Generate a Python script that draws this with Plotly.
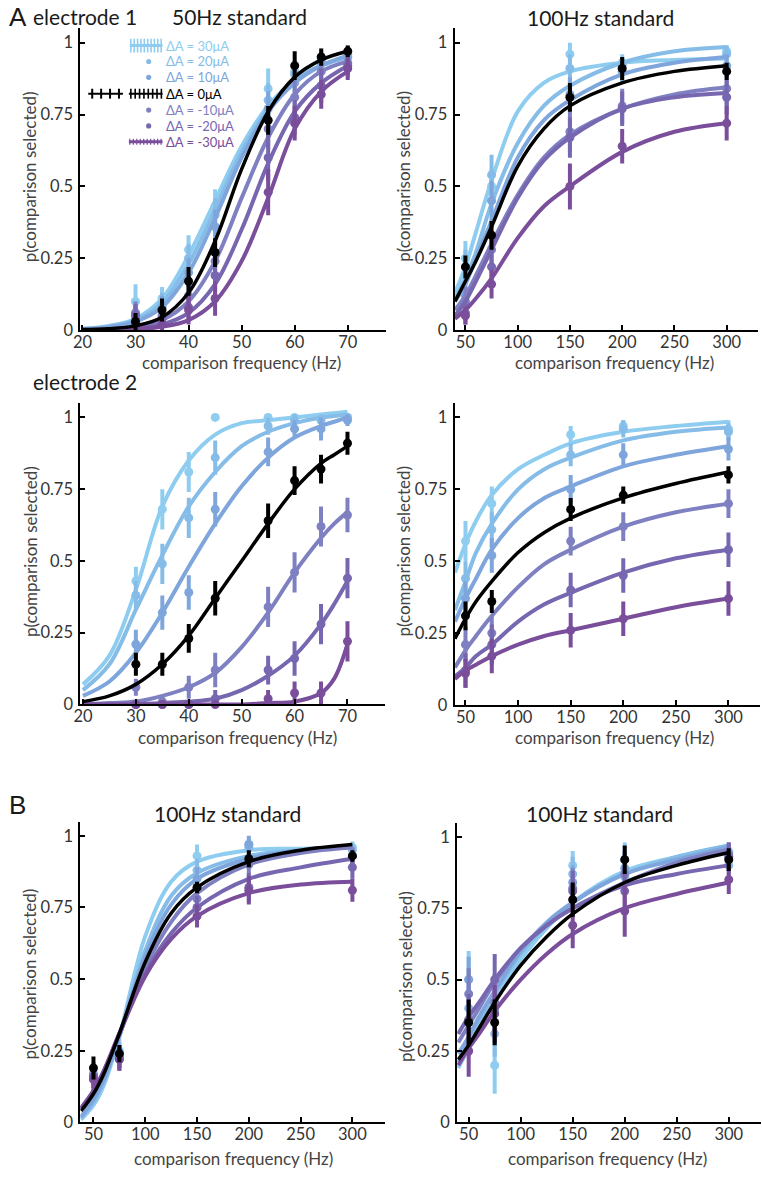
import plotly.graph_objects as go

W, H = 762, 1179
FONT = "Lato"

# ---------------- series ----------------
series_labels = ["ΔA = 30μA", "ΔA = 20μA", "ΔA = 10μA", "ΔA = 0μA",
                 "ΔA = -10μA", "ΔA = -20μA", "ΔA = -30μA"]
series_colors = ["#8fcdf0", "#86bde8", "#7ea6dc", "#000000",
                 "#7f80c1", "#7766b0", "#7a4e9b"]

# ---------------- A: electrode 1, 50Hz standard ----------------
A1_fx = [30, 35, 40, 45, 55, 60, 65, 70]
A1_p = [
    [0.10, 0.11, 0.28, 0.43, 0.84, 0.90, 0.95, 0.96],
    [0.06, 0.09, 0.25, 0.40, 0.80, 0.89, 0.94, 0.95],
    [0.05, 0.08, 0.20, 0.36, 0.77, 0.86, 0.93, 0.95],
    [0.03, 0.07, 0.17, 0.27, 0.73, 0.92, 0.95, 0.97],
    [0.06, 0.05, 0.12, 0.24, 0.70, 0.81, 0.90, 0.93],
    [0.05, 0.04, 0.08, 0.19, 0.60, 0.74, 0.85, 0.92],
    [0.02, 0.02, 0.07, 0.11, 0.48, 0.72, 0.82, 0.91],
]
A1_e = [
    [0.06, 0.04, 0.05, 0.06, 0.07, 0.04, 0.03, 0.03],
    [0.04, 0.04, 0.05, 0.06, 0.06, 0.04, 0.03, 0.03],
    [0.04, 0.04, 0.05, 0.06, 0.06, 0.05, 0.03, 0.03],
    [0.03, 0.04, 0.05, 0.05, 0.05, 0.05, 0.03, 0.02],
    [0.04, 0.03, 0.05, 0.07, 0.07, 0.06, 0.05, 0.04],
    [0.04, 0.03, 0.05, 0.07, 0.08, 0.06, 0.06, 0.04],
    [0.03, 0.02, 0.05, 0.06, 0.08, 0.06, 0.05, 0.04],
]
A1_cx = [20, 25, 30, 35, 40, 45, 50, 55, 60, 65, 70]
A1_c = [
    [0.005, 0.015, 0.04, 0.11, 0.26, 0.45, 0.64, 0.78, 0.87, 0.92, 0.95],
    [0.004, 0.012, 0.035, 0.095, 0.23, 0.42, 0.62, 0.77, 0.87, 0.92, 0.95],
    [0.003, 0.01, 0.03, 0.08, 0.20, 0.39, 0.60, 0.76, 0.86, 0.92, 0.955],
    [0.002, 0.005, 0.015, 0.045, 0.13, 0.31, 0.56, 0.76, 0.88, 0.94, 0.97],
    [0.001, 0.004, 0.012, 0.035, 0.10, 0.24, 0.46, 0.67, 0.82, 0.90, 0.935],
    [0.0, 0.002, 0.007, 0.02, 0.06, 0.16, 0.35, 0.58, 0.76, 0.86, 0.92],
    [0.0, 0.001, 0.004, 0.012, 0.035, 0.10, 0.24, 0.46, 0.70, 0.83, 0.90],
]

# ---------------- A: electrode 1, 100Hz standard ----------------
A2_fx = [50, 75, 150, 200, 300]
A2_p = [
    [0.25, 0.50, 0.96, 0.93, 0.97],
    [0.22, 0.54, 0.91, 0.92, 0.96],
    [0.12, 0.45, 0.82, 0.90, 0.92],
    [0.22, 0.33, 0.81, 0.91, 0.90],
    [0.10, 0.28, 0.69, 0.78, 0.84],
    [0.06, 0.22, 0.67, 0.77, 0.81],
    [0.05, 0.16, 0.50, 0.64, 0.72],
]
A2_e = [
    [0.06, 0.06, 0.04, 0.03, 0.02],
    [0.06, 0.07, 0.05, 0.03, 0.03],
    [0.05, 0.07, 0.06, 0.04, 0.04],
    [0.04, 0.05, 0.05, 0.04, 0.03],
    [0.05, 0.06, 0.07, 0.06, 0.06],
    [0.04, 0.06, 0.07, 0.06, 0.06],
    [0.03, 0.05, 0.08, 0.06, 0.06],
]
A2_cx = [40, 50, 60, 75, 100, 125, 150, 200, 250, 300]
A2_c = [
    [0.13, 0.22, 0.34, 0.52, 0.76, 0.86, 0.90, 0.93, 0.94, 0.945],
    [0.11, 0.18, 0.27, 0.44, 0.65, 0.78, 0.85, 0.93, 0.97, 0.985],
    [0.10, 0.16, 0.25, 0.38, 0.60, 0.73, 0.80, 0.89, 0.93, 0.95],
    [0.10, 0.17, 0.24, 0.36, 0.57, 0.70, 0.78, 0.86, 0.90, 0.92],
    [0.07, 0.12, 0.19, 0.30, 0.47, 0.60, 0.68, 0.77, 0.82, 0.845],
    [0.05, 0.10, 0.17, 0.28, 0.46, 0.59, 0.67, 0.77, 0.81, 0.825],
    [0.04, 0.07, 0.11, 0.18, 0.32, 0.43, 0.50, 0.62, 0.69, 0.72],
]

# ---------------- A: electrode 2, 50Hz standard ----------------
A3_fx = [30, 35, 40, 45, 55, 60, 65, 70]
A3_p = [
    [0.43, 0.68, 0.81, 1.00, 1.00, 1.00, 1.00, 1.00],
    [0.38, 0.49, 0.65, 0.86, 0.97, 0.99, 0.99, 1.00],
    [0.21, 0.32, 0.39, 0.68, 0.88, 0.96, 0.96, 0.99],
    [0.14, 0.14, 0.23, 0.37, 0.64, 0.78, 0.82, 0.91],
    [0.06, 0.01, 0.06, 0.12, 0.34, 0.46, 0.62, 0.66],
    [0.00, 0.00, 0.00, 0.02, 0.12, 0.16, 0.28, 0.44],
    [0.00, 0.00, 0.00, 0.00, 0.02, 0.04, 0.04, 0.22],
]
A3_e = [
    [0.05, 0.07, 0.07, 0.0, 0.0, 0.0, 0.0, 0.0],
    [0.05, 0.07, 0.07, 0.06, 0.03, 0.02, 0.02, 0.0],
    [0.05, 0.06, 0.06, 0.06, 0.05, 0.03, 0.04, 0.02],
    [0.04, 0.04, 0.05, 0.06, 0.06, 0.05, 0.05, 0.04],
    [0.03, 0.02, 0.04, 0.06, 0.07, 0.07, 0.07, 0.06],
    [0.0, 0.0, 0.0, 0.03, 0.05, 0.06, 0.07, 0.07],
    [0.0, 0.0, 0.0, 0.0, 0.03, 0.04, 0.04, 0.07],
]
A3_cx = [20, 25, 30, 35, 40, 45, 50, 55, 60, 65, 67.5, 70]
A3_c = [
    [0.07, 0.17, 0.40, 0.69, 0.85, 0.94, 0.98, 0.99, 1.0, 1.01, 1.015, 1.02],
    [0.05, 0.14, 0.33, 0.52, 0.69, 0.81, 0.90, 0.95, 0.98, 1.0, 1.005, 1.01],
    [0.03, 0.08, 0.18, 0.32, 0.48, 0.63, 0.76, 0.86, 0.93, 0.97, 0.985, 1.0],
    [0.01, 0.03, 0.07, 0.14, 0.24, 0.37, 0.50, 0.63, 0.75, 0.84, 0.87, 0.90],
    [0.0, 0.005, 0.01, 0.03, 0.06, 0.11, 0.20, 0.32, 0.46, 0.58, 0.63, 0.67],
    [0.0, 0.0, 0.0, 0.005, 0.01, 0.02, 0.05, 0.10, 0.17, 0.28, 0.35, 0.43],
    [0.0, 0.0, 0.0, 0.0, 0.0, 0.0, 0.0, 0.005, 0.01, 0.04, 0.09, 0.21],
]

# ---------------- A: electrode 2, 100Hz standard ----------------
A4_fx = [50, 75, 150, 200, 300]
A4_p = [
    [0.57, 0.70, 0.94, 0.97, 0.96],
    [0.44, 0.61, 0.87, 0.96, 0.95],
    [0.37, 0.52, 0.75, 0.87, 0.89],
    [0.31, 0.36, 0.68, 0.73, 0.80],
    [0.21, 0.25, 0.57, 0.62, 0.70],
    [0.12, 0.21, 0.40, 0.45, 0.54],
    [0.11, 0.17, 0.26, 0.30, 0.37],
]
A4_e = [
    [0.07, 0.06, 0.03, 0.02, 0.03],
    [0.06, 0.06, 0.04, 0.03, 0.03],
    [0.06, 0.06, 0.05, 0.04, 0.04],
    [0.05, 0.04, 0.04, 0.03, 0.03],
    [0.06, 0.06, 0.05, 0.05, 0.05],
    [0.06, 0.07, 0.06, 0.06, 0.06],
    [0.05, 0.06, 0.06, 0.06, 0.06],
]
A4_cx = [40, 50, 60, 75, 100, 125, 150, 200, 250, 300]
A4_c = [
    [0.46, 0.56, 0.64, 0.73, 0.82, 0.87, 0.91, 0.95, 0.97, 0.985],
    [0.33, 0.43, 0.53, 0.63, 0.75, 0.82, 0.86, 0.92, 0.95, 0.965],
    [0.29, 0.37, 0.44, 0.54, 0.65, 0.72, 0.76, 0.83, 0.87, 0.90],
    [0.23, 0.30, 0.36, 0.43, 0.53, 0.60, 0.65, 0.72, 0.77, 0.81],
    [0.13, 0.19, 0.24, 0.31, 0.41, 0.49, 0.54, 0.62, 0.67, 0.70],
    [0.10, 0.13, 0.17, 0.21, 0.29, 0.35, 0.39, 0.46, 0.51, 0.54],
    [0.09, 0.12, 0.14, 0.17, 0.21, 0.24, 0.26, 0.30, 0.34, 0.37],
]

# ---------------- B: 100Hz standard (left) ----------------
B1_fx = [50, 75, 150, 200, 300]
B1_p = [
    [0.15, 0.25, 0.93, 0.97, 0.96],
    [0.16, 0.24, 0.88, 0.96, 0.95],
    [0.17, 0.23, 0.85, 0.97, 0.93],
    [0.19, 0.24, 0.82, 0.92, 0.93],
    [0.16, 0.23, 0.78, 0.90, 0.93],
    [0.16, 0.22, 0.75, 0.82, 0.89],
    [0.15, 0.22, 0.72, 0.81, 0.81],
]
B1_e = [
    [0.04, 0.04, 0.04, 0.02, 0.02],
    [0.04, 0.04, 0.04, 0.02, 0.02],
    [0.04, 0.04, 0.04, 0.03, 0.03],
    [0.04, 0.03, 0.02, 0.03, 0.02],
    [0.04, 0.04, 0.04, 0.04, 0.03],
    [0.04, 0.04, 0.04, 0.05, 0.04],
    [0.04, 0.04, 0.04, 0.05, 0.04],
]
B1_cx = [38, 50, 60, 75, 100, 125, 150, 200, 250, 300]
B1_c = [
    [0.01, 0.06, 0.13, 0.30, 0.65, 0.84, 0.91, 0.95, 0.955, 0.96],
    [0.015, 0.07, 0.14, 0.30, 0.60, 0.79, 0.87, 0.93, 0.95, 0.96],
    [0.02, 0.08, 0.15, 0.30, 0.58, 0.76, 0.85, 0.92, 0.95, 0.96],
    [0.04, 0.10, 0.17, 0.31, 0.56, 0.73, 0.82, 0.91, 0.95, 0.97],
    [0.045, 0.10, 0.17, 0.31, 0.54, 0.70, 0.80, 0.90, 0.94, 0.96],
    [0.05, 0.11, 0.18, 0.31, 0.52, 0.66, 0.75, 0.85, 0.89, 0.92],
    [0.05, 0.11, 0.18, 0.31, 0.51, 0.64, 0.72, 0.80, 0.83, 0.84],
]

# ---------------- B: 100Hz standard (right) ----------------
B2_fx = [50, 75, 150, 200, 300]
B2_p = [
    [0.50, 0.20, 0.90, 0.92, 0.95],
    [0.40, 0.31, 0.87, 0.86, 0.90],
    [0.50, 0.39, 0.84, 0.89, 0.93],
    [0.35, 0.35, 0.78, 0.92, 0.92],
    [0.45, 0.42, 0.82, 0.87, 0.94],
    [0.36, 0.50, 0.81, 0.81, 0.93],
    [0.25, 0.38, 0.69, 0.74, 0.85],
]
B2_e = [
    [0.10, 0.10, 0.05, 0.06, 0.03],
    [0.08, 0.08, 0.06, 0.06, 0.04],
    [0.08, 0.09, 0.06, 0.06, 0.04],
    [0.08, 0.08, 0.06, 0.05, 0.04],
    [0.09, 0.10, 0.07, 0.07, 0.04],
    [0.09, 0.09, 0.07, 0.08, 0.05],
    [0.09, 0.10, 0.08, 0.09, 0.05],
]
B2_cx = [40, 50, 60, 75, 100, 125, 150, 200, 250, 300]
B2_c = [
    [0.19, 0.26, 0.33, 0.43, 0.57, 0.68, 0.77, 0.88, 0.93, 0.97],
    [0.21, 0.28, 0.35, 0.45, 0.59, 0.69, 0.77, 0.87, 0.93, 0.97],
    [0.24, 0.30, 0.37, 0.46, 0.60, 0.70, 0.77, 0.87, 0.92, 0.965],
    [0.22, 0.27, 0.33, 0.42, 0.55, 0.65, 0.73, 0.84, 0.90, 0.945],
    [0.28, 0.34, 0.40, 0.49, 0.61, 0.69, 0.75, 0.84, 0.91, 0.955],
    [0.31, 0.37, 0.42, 0.50, 0.61, 0.69, 0.75, 0.83, 0.87, 0.90],
    [0.20, 0.26, 0.31, 0.39, 0.50, 0.59, 0.66, 0.75, 0.80, 0.84],
]

ticks_50 = [20, 30, 40, 50, 60, 70]
ticks_100 = [50, 100, 150, 200, 250, 300]
y_ticks = [0, 0.25, 0.5, 0.75, 1]
y_ticktext = ["0", "0.25", "0.5", "0.75", "1"]

# ---------------- layout geometry (pixels) ----------------
def px(x):
    return x / W

def py(y):
    return 1 - y / H

YTOP = 1.05
panels = [
    dict(fx=A1_fx, p=A1_p, e=A1_e, cx=A1_cx, c=A1_c, xr=[19.6, 77.3], xt=ticks_50,
         xl=74, xrpx=383, y0=333, y1=43),
    dict(fx=A2_fx, p=A2_p, e=A2_e, cx=A2_cx, c=A2_c, xr=[39.6, 330], xt=ticks_100,
         xl=451.7, xrpx=758, y0=333, y1=43),
    dict(fx=A3_fx, p=A3_p, e=A3_e, cx=A3_cx, c=A3_c, xr=[19.5, 77], xt=ticks_50,
         xl=74, xrpx=381, y0=710.5, y1=421),
    dict(fx=A4_fx, p=A4_p, e=A4_e, cx=A4_cx, c=A4_c, xr=[39.6, 330], xt=ticks_100,
         xl=451.7, xrpx=760, y0=711, y1=421),
    dict(fx=B1_fx, p=B1_p, e=B1_e, cx=B1_cx, c=B1_c, xr=[37.3, 331], xt=ticks_100,
         xl=74, xrpx=381, y0=1132, y1=843),
    dict(fx=B2_fx, p=B2_p, e=B2_e, cx=B2_cx, c=B2_c, xr=[38.9, 331], xt=ticks_100,
         xl=454.3, xrpx=761, y0=1132, y1=844),
]

fig = go.Figure()
layout = dict(
    width=W, height=H, margin=dict(l=0, r=0, t=0, b=0),
    paper_bgcolor="white", plot_bgcolor="white", showlegend=False,
    font=dict(family=FONT, color="#333333"),
)

draw_order = [0, 1, 2, 4, 5, 6, 3]
for i, pn in enumerate(panels, start=1):
    xa = "x" if i == 1 else f"x{i}"
    ya = "y" if i == 1 else f"y{i}"
    scale = pn["y0"] - pn["y1"]
    top_px = pn["y0"] - YTOP * scale
    axis_common = dict(
        showline=True, linecolor="black", linewidth=2, ticks="inside", ticklen=5,
        tickwidth=1.5, tickcolor="black", showgrid=False, zeroline=False,
        tickfont=dict(family=FONT, size=16.5, color="#333333"),
    )
    layout["xaxis" if i == 1 else f"xaxis{i}"] = dict(
        axis_common, domain=[px(pn["xl"]), px(pn["xrpx"])], range=pn["xr"],
        tickvals=pn["xt"], anchor=ya, ticklabelstandoff=-4,
    )
    layout["yaxis" if i == 1 else f"yaxis{i}"] = dict(
        axis_common, domain=[py(pn["y0"]), py(top_px)], range=[0, YTOP],
        tickvals=y_ticks, ticktext=y_ticktext, anchor=xa, ticklabelstandoff=2,
    )
    for s in draw_order:
        col = series_colors[s]
        fig.add_trace(go.Scatter(
            x=pn["fx"], y=pn["p"][s], mode="markers", xaxis=xa, yaxis=ya,
            marker=dict(color=col, size=9),
            error_y=dict(type="data", array=pn["e"][s], color=col, thickness=4, width=0),
            cliponaxis=False, hoverinfo="skip",
        ))
        fig.add_trace(go.Scatter(
            x=pn["cx"], y=pn["c"][s], mode="lines", xaxis=xa, yaxis=ya,
            line=dict(color=col, width=3.5 if s == 3 else 4, shape="spline"),
            cliponaxis=True, hoverinfo="skip",
        ))

# ---------------- text ----------------
ann = []

def text(x, y, t, size, color="#1a1a1a", family=FONT, xanchor="center", angle=0, pad=1):
    ann.append(dict(x=px(x), y=py(y), xref="paper", yref="paper", text=t,
                    showarrow=False, xanchor=xanchor, yanchor="middle", borderpad=pad,
                    textangle=angle, font=dict(family=family, size=size, color=color)))

text(0, 17, "A", 26, family="Liberation Sans", xanchor="left")
text(24, 17, "electrode 1", 21, xanchor="left")
text(235, 17, "50Hz standard", 21)
text(599, 18, "100Hz standard", 21)
text(24, 385, "electrode 2", 21, xanchor="left")
text(0, 812, "B", 26, family="Liberation Sans", xanchor="left")
text(223, 820, "100Hz standard", 21)
text(598, 820, "100Hz standard", 21)

ytitle = "p(comparison selected)"
xtitle = "comparison frequency (Hz)"
for (x, y) in [(23, 178), (400, 178), (23, 556), (400, 556), (23, 982), (402, 985)]:
    text(x, y, ytitle, 17, color="#444444", angle=-90, pad=0)
for (x, y) in [(237, 366), (613, 366), (233, 744), (613, 744), (229, 1168), (606, 1168)]:
    text(x, y, xtitle, 17, color="#444444", pad=0)

# ---------------- legend (top-left panel) ----------------
shapes = []
leg_rows = [46, 62, 78, 94.5, 111, 127, 143]
for s, yrow in enumerate(leg_rows):
    text(159, yrow, series_labels[s], 13, color=series_colors[s] if s != 3 else "#000000",
         xanchor="left", pad=0)

def seg(x0, y0, x1, y1, color, width):
    shapes.append(dict(type="line", xref="paper", yref="paper",
                       x0=px(x0), y0=py(y0), x1=px(x1), y1=py(y1),
                       line=dict(color=color, width=width)))

def dot(x, y, r, color):
    shapes.append(dict(type="circle", xref="paper", yref="paper",
                       x0=px(x - r), y0=py(y + r), x1=px(x + r), y1=py(y - r),
                       fillcolor=color, line=dict(width=0)))

# 30 uA: hatched errorbar-like symbol
seg(124, leg_rows[0], 157, leg_rows[0], series_colors[0], 3)
for k in range(10):
    xx = 125 + k * 3.4
    seg(xx, leg_rows[0] - 7, xx, leg_rows[0] + 7, series_colors[0], 1.6)
# dots
for s in (1, 2, 4, 5):
    dot(143, leg_rows[s], 2.6, series_colors[s])
# 0 uA
r0 = leg_rows[3]
seg(82, r0, 117, r0, "#000000", 2)
for k in range(4):
    xx = 86 + k * 9
    seg(xx, r0 - 5, xx, r0 + 5, "#000000", 2)
seg(123, r0, 157, r0, "#000000", 2)
for k in range(8):
    xx = 125 + k * 4.4
    seg(xx, r0 - 5, xx, r0 + 5, "#000000", 1.6)
# -30 uA
r6 = leg_rows[6]
seg(123, r6, 157, r6, series_colors[6], 3)
for k in range(10):
    xx = 124 + k * 3.5
    seg(xx, r6 - 3, xx, r6 + 3, series_colors[6], 1.2)

layout["annotations"] = ann
layout["shapes"] = shapes
fig.update_layout(**layout)
fig.write_html(
    "out.html",
    config={"displayModeBar": False},
    post_script="document.body.style.margin='0px';document.documentElement.style.overflow='hidden';",
)
